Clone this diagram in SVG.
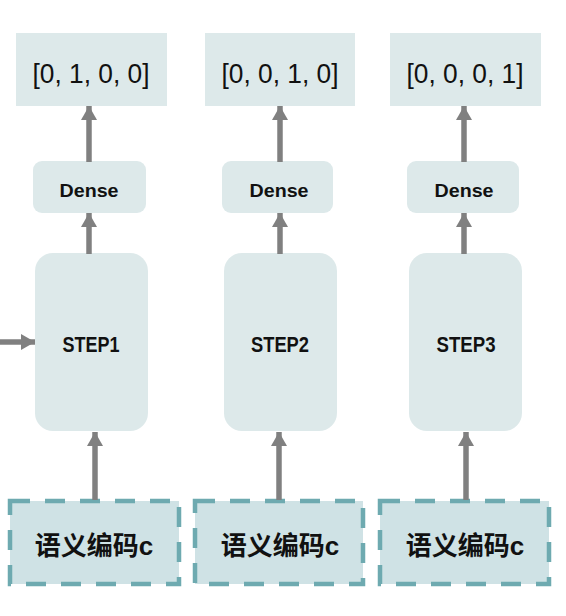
<svg xmlns="http://www.w3.org/2000/svg" width="566" height="616" viewBox="0 0 566 616">
<defs>
<marker id="ah" markerUnits="userSpaceOnUse" markerWidth="16" markerHeight="16" viewBox="0 0 14 16" refX="14" refY="8" orient="auto">
<path d="M0,0 L14,8 L0,16 Z" fill="#808080"/>
</marker>
</defs>
<style>
.out{fill:#dde9ea}
.box{fill:#dde9ea}
.in{fill:#cfe2e5;stroke:#6eaab0;stroke-width:4.5;stroke-dasharray:20 15}
.conn line{stroke:#808080;stroke-width:5.5;marker-end:url(#ah)}
.t1{font-family:"Liberation Sans",Arial,sans-serif;font-size:27px;fill:#111;text-anchor:middle}
.t2{font-family:"Liberation Sans",Arial,sans-serif;font-size:19px;font-weight:bold;fill:#111;text-anchor:middle}
.t3{font-family:"Liberation Sans",Arial,sans-serif;font-size:22px;font-weight:bold;fill:#111;text-anchor:middle}
.t4{font-family:"Liberation Sans","Noto Sans CJK SC",sans-serif;font-size:26px;font-weight:bold;fill:#111;text-anchor:middle}
</style>
<g id="out1"><rect class="out" x="16" y="33" width="151" height="73"/><text class="t1" x="91" y="83" textLength="117" lengthAdjust="spacingAndGlyphs">[0, 1, 0, 0]</text></g>
<g id="out2"><rect class="out" x="205" y="33" width="150" height="73"/><text class="t1" x="280" y="83" textLength="117" lengthAdjust="spacingAndGlyphs">[0, 0, 1, 0]</text></g>
<g id="out3"><rect class="out" x="390" y="33" width="151" height="73"/><text class="t1" x="465" y="83" textLength="117" lengthAdjust="spacingAndGlyphs">[0, 0, 0, 1]</text></g>
<g id="dense1"><rect class="box" x="33" y="161" width="113" height="52" rx="9"/><text class="t2" x="89" y="197" textLength="59" lengthAdjust="spacingAndGlyphs">Dense</text></g>
<g id="dense2"><rect class="box" x="222" y="161" width="111" height="52" rx="9"/><text class="t2" x="279" y="197" textLength="59" lengthAdjust="spacingAndGlyphs">Dense</text></g>
<g id="dense3"><rect class="box" x="407" y="161" width="112" height="52" rx="9"/><text class="t2" x="464" y="197" textLength="59" lengthAdjust="spacingAndGlyphs">Dense</text></g>
<g id="step1"><rect class="box" x="35" y="253" width="113" height="178" rx="18"/><text class="t3" x="91" y="352" textLength="57" lengthAdjust="spacingAndGlyphs">STEP1</text></g>
<g id="step2"><rect class="box" x="224" y="253" width="113" height="178" rx="18"/><text class="t3" x="280" y="352" textLength="58" lengthAdjust="spacingAndGlyphs">STEP2</text></g>
<g id="step3"><rect class="box" x="409" y="253" width="113" height="178" rx="18"/><text class="t3" x="466" y="352" textLength="59" lengthAdjust="spacingAndGlyphs">STEP3</text></g>
<g id="in1"><rect class="in" x="10" y="501" width="169" height="83"/><text class="t4" x="94" y="555">语义编码c</text></g>
<g id="in2"><rect class="in" x="195" y="501" width="168" height="83"/><text class="t4" x="280" y="555">语义编码c</text></g>
<g id="in3"><rect class="in" x="380" y="501" width="169" height="83"/><text class="t4" x="465" y="555">语义编码c</text></g>
<g id="connectors" class="conn">
<line x1="89" y1="162" x2="89" y2="106"/>
<line x1="280" y1="162" x2="280" y2="106"/>
<line x1="464" y1="162" x2="464" y2="106"/>
<line x1="89" y1="254" x2="89" y2="213"/>
<line x1="280" y1="254" x2="280" y2="213"/>
<line x1="464" y1="254" x2="464" y2="213"/>
<line x1="95" y1="500" x2="95" y2="432"/>
<line x1="279" y1="500" x2="279" y2="432"/>
<line x1="466" y1="500" x2="466" y2="432"/>
<line x1="0" y1="342" x2="35" y2="342"/>
</g>
</svg>
